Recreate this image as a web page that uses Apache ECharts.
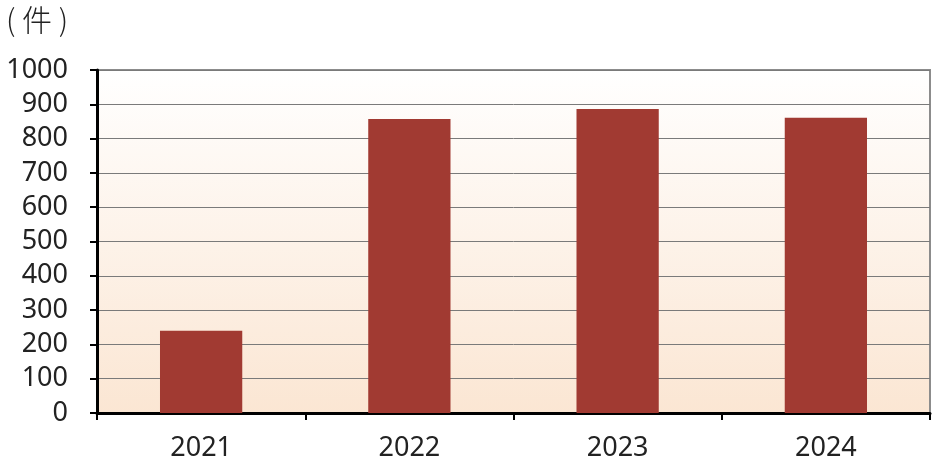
<!DOCTYPE html>
<html><head><meta charset="utf-8">
<script src="https://cdn.jsdelivr.net/npm/echarts@6/dist/echarts.min.js"></script>
<style>html,body{margin:0;padding:0;background:#fff}#c{width:942px;height:468px}</style>
</head><body><div id="c"></div>
<script>
const categories = ['2021', '2022', '2023', '2024'];
const values = [240, 857, 886, 861];
const unitLabel = '( 件 )';
const chart = echarts.init(document.getElementById('c'));
const font = "'Noto Sans', 'Noto Sans CJK SC', sans-serif";
chart.setOption({
  animation: false,
  graphic: [{ type: 'text', left: 6, top: 5, style: { text: unitLabel, font: "300 30px 'Noto Sans CJK SC', sans-serif", fill: '#222' } }],
  grid: {
    left: 97, right: 12, top: 70, bottom: 55,
    outerBoundsMode: 'none', containLabel: false,
    show: true,
    backgroundColor: new echarts.graphic.LinearGradient(0, 0, 0, 1, [
      { offset: 0, color: '#ffffff' },
      { offset: 1, color: '#fbe6d3' }
    ]),
    borderColor: '#8c8c8c', borderWidth: 2
  },
  xAxis: {
    type: 'category', data: categories,
    axisLine: { lineStyle: { color: '#000', width: 3 } },
    axisTick: { show: true, length: 7, lineStyle: { color: '#000', width: 2 } },
    axisLabel: { color: '#222', fontSize: 27, fontFamily: font, margin: 22 }
  },
  yAxis: {
    type: 'value', min: 0, max: 1000, interval: 100,
    axisLine: { show: true, lineStyle: { color: '#000', width: 3 } },
    axisTick: { show: true, length: 7, lineStyle: { color: '#000', width: 2 } },
    axisLabel: { color: '#222', fontSize: 27, fontFamily: font, margin: 29, formatter: v => String(v) },
    splitLine: { lineStyle: { color: '#7a7a7a', width: 1 } }
  },
  series: [{
    type: 'bar', data: values, barWidth: '39.5%',
    itemStyle: { color: '#a13a32' }
  }]
});
</script></body></html>
